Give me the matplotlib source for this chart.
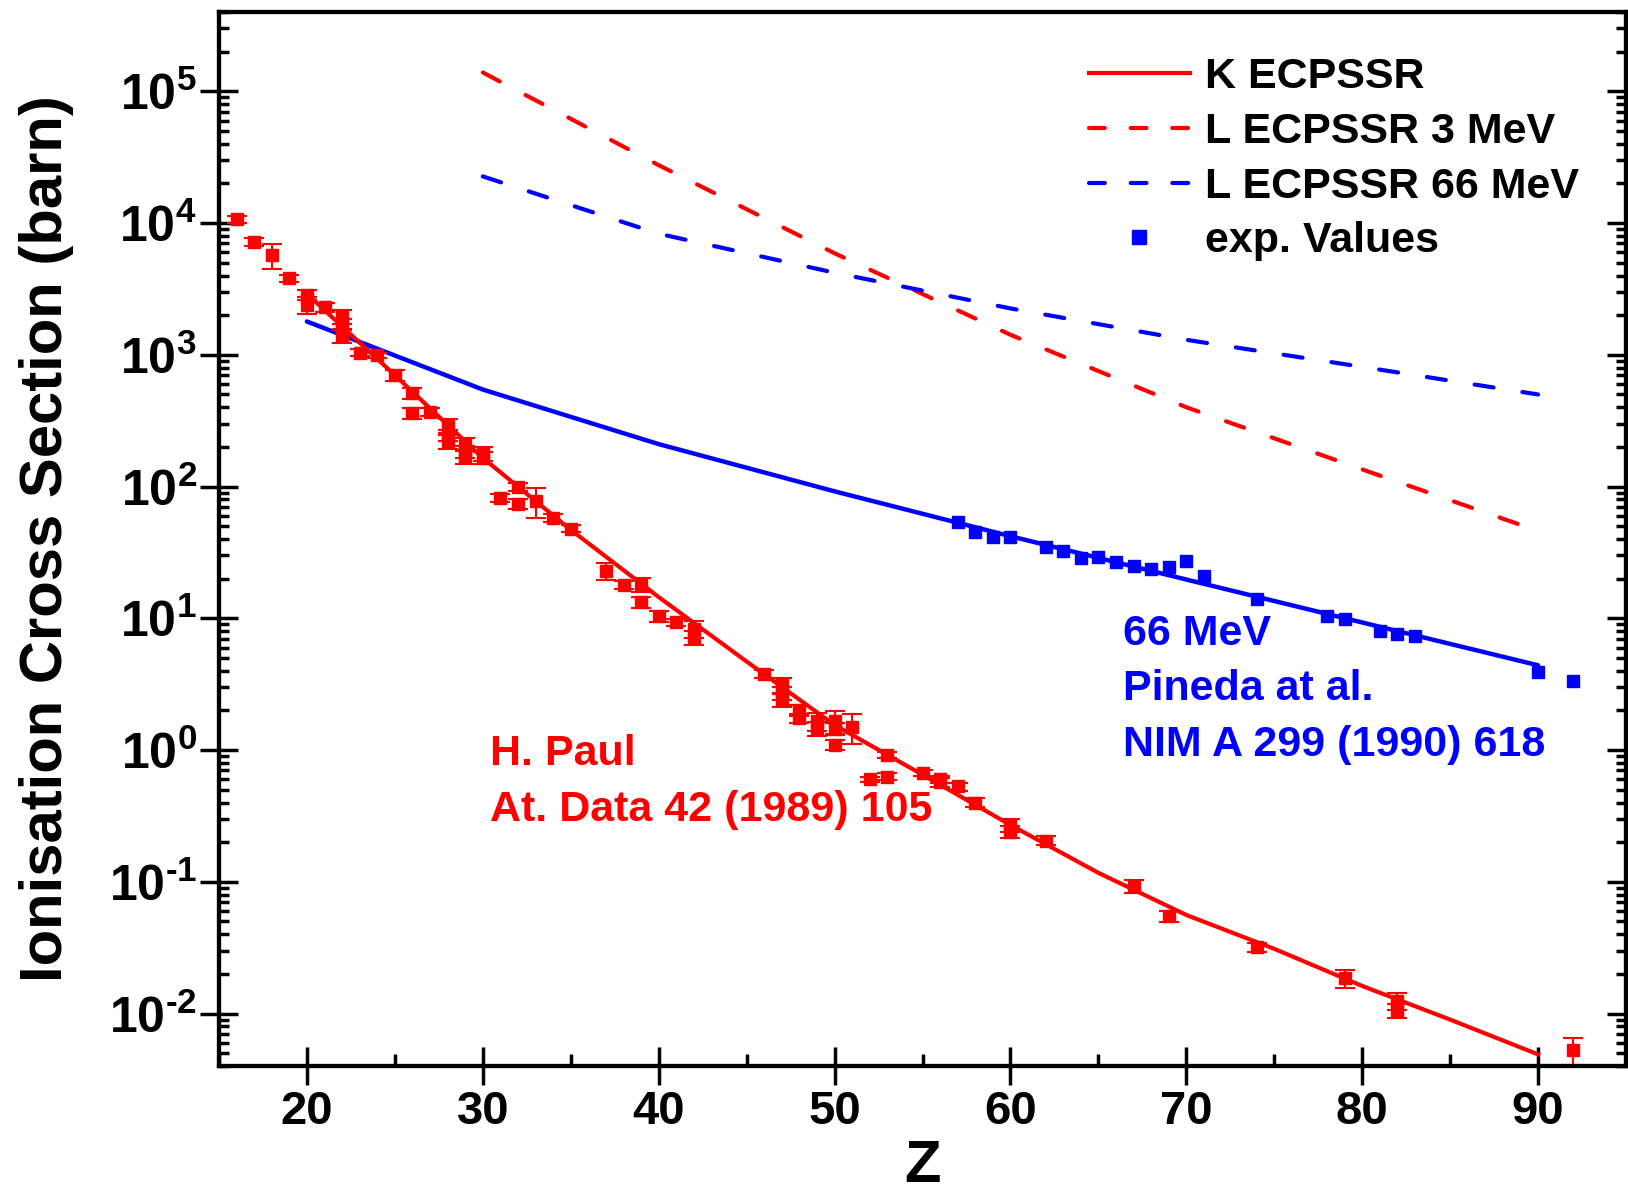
import numpy as np
import matplotlib
matplotlib.use('Agg')
import matplotlib.pyplot as plt
from matplotlib.ticker import LogLocator, FuncFormatter, MultipleLocator, NullFormatter, FixedLocator
from matplotlib.lines import Line2D

plt.rcParams['font.family'] = ['Liberation Sans', 'DejaVu Sans']
plt.rcParams['font.weight'] = 'bold'
plt.rcParams['mathtext.fontset'] = 'custom'
plt.rcParams['mathtext.rm'] = 'Liberation Sans:bold'
plt.rcParams['mathtext.bf'] = 'Liberation Sans:bold'
plt.rcParams['mathtext.it'] = 'Liberation Sans:bold'
plt.rcParams['mathtext.default'] = 'rm'

# ---------------- data ----------------
# K-shell ECPSSR theory (solid red)
k_theory_z = [20, 25, 30, 35, 40, 45, 50, 55, 60, 65, 70, 75, 80, 85, 90]
k_theory_sigma = [2900, 700, 165, 47, 14.5, 4.7, 1.55, 0.65, 0.27, 0.117, 0.056, 0.031, 0.0162, 0.009, 0.0049]

# L-shell theory 66 MeV (solid blue, no legend entry)
l66_solid_z = [20, 30, 40, 50, 60, 70, 80, 90]
l66_solid_sigma = [1790, 545, 210, 92, 42, 19.7, 9.3, 4.4]

# L ECPSSR 3 MeV (dashed red)
l3_z = [30, 40, 50, 60, 70, 80, 90]
l3_sigma = [1.39e5, 2.75e4, 5900, 1420, 400, 135, 46]

# L ECPSSR 66 MeV (dashed blue)
l66_z = [30, 40, 50, 60, 70, 80, 90]
l66_sigma = [2.26e4, 8300, 4200, 2250, 1300, 810, 500]

# experimental K values (H. Paul)
k_exp_z = [16, 17, 18, 19, 20, 20, 21, 22, 22, 22, 23, 24, 25, 26, 26, 27, 28, 28, 28,
           29, 29, 29, 30, 30, 31, 32, 32, 33, 34, 35, 37, 38, 39, 39, 40, 41, 42, 42,
           46, 47, 47, 47, 48, 48, 49, 49, 50, 50, 50, 51, 52, 53, 53, 55, 56, 56, 57,
           58, 60, 60, 62, 67, 69, 74, 79, 82, 82, 92]
k_exp_sigma = [10700, 7200, 5700, 3800, 2850, 2400, 2300, 1950, 1700, 1400, 1040, 990, 700, 510, 360,
               370, 290, 245, 220, 210, 185, 168, 178, 165, 82, 100, 74, 78, 58, 48, 23, 18,
               18, 13.2, 10.4, 9.3, 8.3, 7.1, 3.8, 3.1, 2.7, 2.4, 2.0, 1.75, 1.65, 1.45, 1.65,
               1.45, 1.1, 1.5, 0.60, 0.92, 0.63, 0.67, 0.60, 0.57, 0.53, 0.40, 0.27, 0.24, 0.205,
               0.093, 0.055, 0.032, 0.0185, 0.0125, 0.0105, 0.0053]
k_exp_err = [700, 450, 1250, 260, 230, 360, 180, 230, 170, 170, 60, 50, 70, 50, 36,
             26, 35, 25, 26, 25, 19, 20, 21, 17, 6, 7, 7, 20, 4, 3, 3.5, 1.3,
             2.2, 1.3, 1.0, 0.6, 1.2, 0.85, 0.27, 0.45, 0.32, 0.29, 0.2, 0.14, 0.25, 0.17, 0.33,
             0.15, 0.09, 0.38, 0.03, 0.055, 0.04, 0.035, 0.036, 0.045, 0.037, 0.032, 0.032, 0.024, 0.016,
             0.011, 0.0055, 0.0026, 0.0028, 0.0019, 0.0013, 0.0012]

# experimental L values 66 MeV (Pineda et al.)
l_exp_z = [57, 58, 59, 60, 62, 63, 64, 65, 66, 67, 68, 69, 70, 71, 74, 78, 79, 81, 82, 83, 90, 92]
l_exp_sigma = [53.6, 45, 41.5, 41.5, 34.9, 32.4, 28.8, 29.3, 26.7, 24.9, 23.5, 24.4, 27.2, 21.1,
               14.1, 10.4, 9.8, 8.0, 7.6, 7.4, 3.9, 3.34]

# axis ticks
x_ticks = [20, 30, 40, 50, 60, 70, 80, 90]
y_ticks = [1e-2, 1e-1, 1e0, 1e1, 1e2, 1e3, 1e4, 1e5]

RED = '#ff0000'
BLUE = '#0000ff'
DASH = (4.6, 7.0)
LEG_DASH = (3.8, 6.2)

# ---------------- figure ----------------
fig = plt.figure(figsize=(16.28, 11.94), dpi=100)
ax = fig.add_axes([219 / 1628, 1 - 1066 / 1194, (1626 - 219) / 1628, (1066 - 12) / 1194])

ax.set_yscale('log')
ax.set_xlim(15, 95)
ax.set_ylim(4e-3, 4e5)

ax.plot(l66_solid_z, l66_solid_sigma, color=BLUE, lw=3.2, zorder=2, solid_capstyle='round')
ax.plot(l3_z, l3_sigma, color=RED, lw=3.0, dashes=DASH, dash_capstyle='round', zorder=2)
ax.plot(l66_z, l66_sigma, color=BLUE, lw=3.0, dashes=DASH, dash_capstyle='round', zorder=2)
ax.plot(k_theory_z, k_theory_sigma, color=RED, lw=3.0, zorder=3)

ax.errorbar(k_exp_z, k_exp_sigma, yerr=k_exp_err, fmt='s', color=RED, ms=9,
            capsize=7.5, elinewidth=1.5, capthick=1.5, zorder=4)
ax.plot(l_exp_z, l_exp_sigma, 's', color=BLUE, ms=8.5, zorder=4)

# annotations
ax.text(30.4, 0.777, 'H. Paul', color=RED, fontsize=31, fontweight='bold', va='baseline', ha='left')
ax.text(30.4, 0.2917, 'At. Data 42 (1989) 105', color=RED, fontsize=31, fontweight='bold',
        va='baseline', ha='left')
ax.text(66.4, 6.25, '66 MeV', color=BLUE, fontsize=31, fontweight='bold', va='baseline', ha='left')
ax.text(66.4, 2.39, 'Pineda at al.', color=BLUE, fontsize=31, fontweight='bold', va='baseline', ha='left')
ax.text(66.4, 0.898, 'NIM A 299 (1990) 618', color=BLUE, fontsize=31, fontweight='bold',
        va='baseline', ha='left')

# legend
handles = [
    Line2D([], [], color=RED, lw=3.0),
    Line2D([], [], color=RED, lw=3.0, dashes=LEG_DASH, dash_capstyle='round'),
    Line2D([], [], color=BLUE, lw=3.0, dashes=LEG_DASH, dash_capstyle='round'),
    Line2D([], [], color=BLUE, ls='none', marker='s', ms=10),
]
labels = ['K ECPSSR', 'L ECPSSR 3 MeV', 'L ECPSSR 66 MeV', 'exp. Values']
ax.legend(handles, labels, loc='upper left', bbox_to_anchor=(0.618, 0.957), frameon=False,
          handlelength=2.35, handletextpad=0.35, labelspacing=0.34,
          borderpad=0, borderaxespad=0, prop={'weight': 'bold', 'size': 31})

# axes styling
for s in ax.spines.values():
    s.set_linewidth(3.0)


def ylab(v, p):
    e = int(round(np.log10(v)))
    if e < 0:
        return r'$10^{\text{-}%d}$' % (-e)
    return r'$10^{%d}$' % e


ax.set_xticks(x_ticks)
ax.xaxis.set_minor_locator(MultipleLocator(5))
ax.yaxis.set_major_locator(FixedLocator(y_ticks))
ax.yaxis.set_minor_locator(LogLocator(base=10, subs=np.arange(2, 10), numticks=200))
ax.yaxis.set_minor_formatter(NullFormatter())
ax.yaxis.set_major_formatter(FuncFormatter(ylab))

ax.tick_params(axis='x', which='major', direction='inout', length=28, width=2.5, top=False,
               labelsize=34, pad=3)
ax.tick_params(axis='x', which='minor', direction='in', length=9, width=2.5, top=False)
ax.tick_params(axis='y', which='major', direction='inout', length=28, width=2.5, right=False,
               labelsize=36, pad=2)
ax.tick_params(axis='y', which='minor', direction='in', length=7.5, width=2.5, right=False)

ax2 = ax.twinx()
ax2.set_yscale('log')
ax2.set_ylim(ax.get_ylim())
ax2.yaxis.set_major_locator(FixedLocator(y_ticks))
ax2.yaxis.set_minor_locator(LogLocator(base=10, subs=np.arange(2, 10), numticks=200))
ax2.yaxis.set_major_formatter(NullFormatter())
ax2.yaxis.set_minor_formatter(NullFormatter())
ax2.tick_params(axis='y', which='major', direction='in', length=14, width=2.5,
                labelright=False, right=True)
ax2.tick_params(axis='y', which='minor', direction='in', length=7.5, width=2.5,
                labelright=False, right=True)
for s in ax2.spines.values():
    s.set_linewidth(3.0)

ax.set_xlabel('Z', fontsize=43, fontweight='bold')
ax.set_ylabel('Ionisation Cross Section (barn)', fontsize=43, fontweight='bold')
ax.xaxis.set_label_coords(0.5, -0.069)
ax.yaxis.set_label_coords(-0.103, 0.5)

fig.savefig('out.png', dpi=100)
